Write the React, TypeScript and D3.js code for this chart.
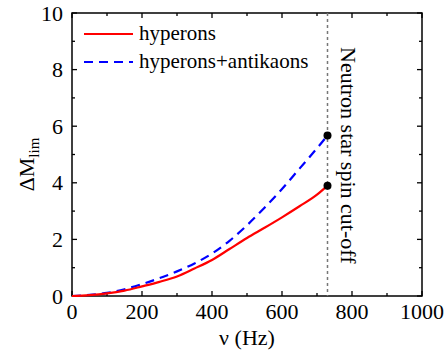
import React, { useEffect, useRef } from 'react';
import * as d3 from 'd3';

// spin frequency (Hz) and ΔM_lim
const freqs = [0, 50, 100, 150, 200, 250, 300, 350, 400, 450, 500, 550, 600, 650, 700, 730];
const hyperons = [0, 0.03, 0.09, 0.19, 0.34, 0.5, 0.69, 0.97, 1.27, 1.66, 2.05, 2.41, 2.78, 3.17, 3.58, 3.9];
const antikaons = [0, 0.04, 0.11, 0.24, 0.42, 0.63, 0.87, 1.15, 1.5, 1.95, 2.5, 3.12, 3.78, 4.5, 5.22, 5.67];
const cutoff = 730;
const xTicks = [0, 200, 400, 600, 800, 1000];
const yTicks = [0, 2, 4, 6, 8, 10];
const seriesNames = ['hyperons', 'hyperons+antikaons'];

const FONT = '"Liberation Serif", "Times New Roman", serif';

const App = () => {
  const ref = useRef<SVGSVGElement>(null);

  useEffect(() => {
    document.body.style.margin = '0';
    drawChart();
  }, []);

  const drawChart = () => {
    const svg = d3.select(ref.current);
    svg.selectAll('*').remove();

    const left = 72, right = 422, top = 13, bottom = 296;

    const x = d3.scaleLinear().domain([0, 1000]).range([left, right]);
    const y = d3.scaleLinear().domain([0, 10]).range([bottom, top]);

    // frame
    svg.append('rect')
      .attr('x', left).attr('y', top)
      .attr('width', right - left).attr('height', bottom - top)
      .attr('fill', 'none').attr('stroke', '#000').attr('stroke-width', 1.5);

    // inward ticks on all four sides (major + minor)
    const minorX = d3.range(100, 1000, 200);
    const minorY = d3.range(1, 10, 2);
    const tick = (x1, y1, x2, y2) =>
      svg.append('line').attr('x1', x1).attr('y1', y1).attr('x2', x2).attr('y2', y2)
        .attr('stroke', '#000').attr('stroke-width', 1.3);

    xTicks.forEach(v => { tick(x(v), bottom, x(v), bottom - 5); tick(x(v), top, x(v), top + 5); });
    minorX.forEach(v => { tick(x(v), bottom, x(v), bottom - 3); tick(x(v), top, x(v), top + 3); });
    yTicks.forEach(v => { tick(left, y(v), left + 5, y(v)); tick(right, y(v), right - 5, y(v)); });
    minorY.forEach(v => { tick(left, y(v), left + 3, y(v)); tick(right, y(v), right - 3, y(v)); });

    // tick labels
    svg.append('g').selectAll('text').data(xTicks).enter().append('text')
      .attr('x', d => x(d)).attr('y', 319)
      .attr('text-anchor', 'middle')
      .style('font-family', FONT).style('font-size', '22px')
      .text(d => d);

    svg.append('g').selectAll('text').data(yTicks).enter().append('text')
      .attr('x', 63).attr('y', d => y(d) + 7.5)
      .attr('text-anchor', 'end')
      .style('font-family', FONT).style('font-size', '22px')
      .text(d => d);

    // axis titles
    svg.append('text')
      .attr('x', x(500)).attr('y', 345)
      .attr('text-anchor', 'middle')
      .style('font-family', FONT).style('font-size', '22px')
      .text('ν (Hz)');

    const yl = svg.append('text')
      .attr('transform', `translate(34,${(top + bottom) / 2 + 10}) rotate(-90)`)
      .attr('text-anchor', 'middle')
      .style('font-family', FONT).style('font-size', '22px');
    yl.append('tspan').text('ΔM');
    yl.append('tspan').attr('dy', 5).style('font-size', '15px').text('lim');

    // cut-off line
    svg.append('line')
      .attr('x1', x(cutoff)).attr('x2', x(cutoff))
      .attr('y1', top).attr('y2', bottom)
      .attr('stroke', '#777').attr('stroke-width', 1.5)
      .attr('stroke-dasharray', '3,3');

    svg.append('text')
      .attr('transform', `translate(${x(cutoff) + 13},47) rotate(90)`)
      .attr('text-anchor', 'start')
      .style('font-family', FONT).style('font-size', '22px')
      .text('Neutron star spin cut-off');

    // curves
    const line = d3.line<number>()
      .x((d, i) => x(freqs[i]))
      .y(d => y(d))
      .curve(d3.curveMonotoneX);

    svg.append('path')
      .attr('d', line(antikaons))
      .attr('fill', 'none').attr('stroke', '#0000ff').attr('stroke-width', 2.2)
      .attr('stroke-dasharray', '9,6');

    svg.append('path')
      .attr('d', line(hyperons))
      .attr('fill', 'none').attr('stroke', '#ff0000').attr('stroke-width', 2.2);

    // end points
    [hyperons, antikaons].forEach(s => {
      svg.append('circle')
        .attr('cx', x(freqs[freqs.length - 1]))
        .attr('cy', y(s[s.length - 1]))
        .attr('r', 4).attr('fill', '#000');
    });

    // legend
    const colors = ['#ff0000', '#0000ff'];
    seriesNames.forEach((name, i) => {
      const ly = 34 + i * 28;
      svg.append('line')
        .attr('x1', 84).attr('x2', 133).attr('y1', ly).attr('y2', ly)
        .attr('stroke', colors[i]).attr('stroke-width', 2.2)
        .attr('stroke-dasharray', i === 1 ? '9,6' : null);
      svg.append('text')
        .attr('x', 139).attr('y', ly + 6)
        .style('font-family', FONT).style('font-size', '21px')
        .text(name);
    });
  };

  return <svg ref={ref} width={448} height={354} style={{ display: 'block', background: '#fff' }} />;
};

export default App;
